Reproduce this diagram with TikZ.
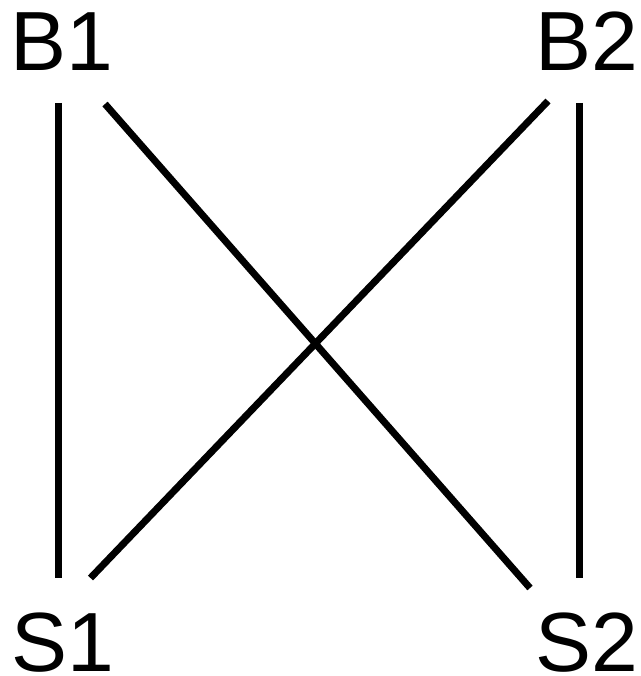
\documentclass[tikz,border=0pt]{standalone}
\usepackage{fontspec}
\setmainfont{Liberation Sans}
\begin{document}
\begin{tikzpicture}[x=1pt,y=-1pt,
  lbl/.style={inner sep=0pt,anchor=base west,font=\fontsize{84}{84}\selectfont},
  edge/.style={line width=7pt}]
\useasboundingbox (0,0) rectangle (640,676);
\node[lbl] (B1) at (10,71) {B1};
\node[lbl] (B2) at (535,71) {B2};
\node[lbl] (S1) at (11,671) {S1};
\node[lbl] (S2) at (535,671) {S2};
\coordinate (b1a) at (58.3,103);
\coordinate (s1a) at (58.3,578);
\coordinate (b1b) at (105,104);
\coordinate (s2b) at (530,588);
\coordinate (b2a) at (548,101);
\coordinate (s1b) at (90.5,578);
\coordinate (b2c) at (579.7,103);
\coordinate (s2c) at (579.7,578);
\draw[edge] (b1a) -- (s1a);
\draw[edge] (b1b) -- (s2b);
\draw[edge] (b2a) -- (s1b);
\draw[edge] (b2c) -- (s2c);
\end{tikzpicture}
\end{document}
